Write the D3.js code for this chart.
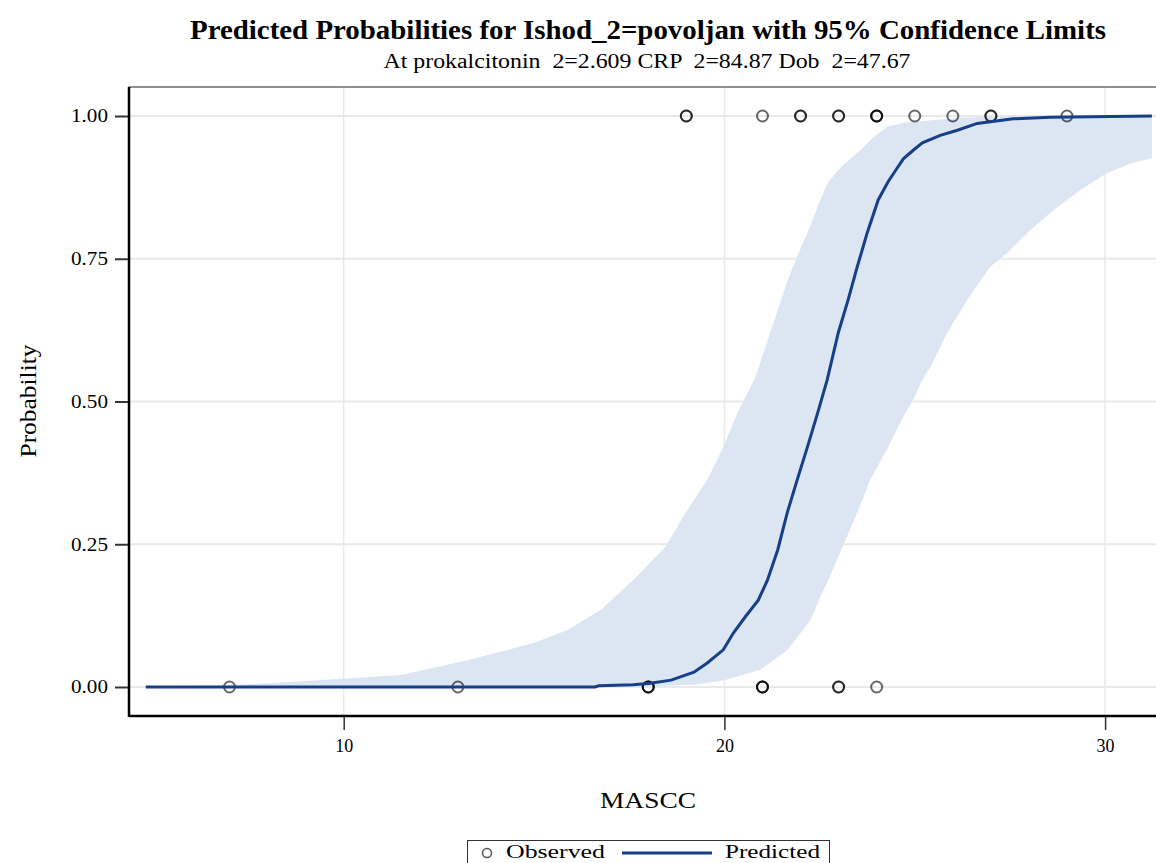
<!DOCTYPE html>
<html><head><meta charset="utf-8">
<script src="https://cdn.jsdelivr.net/npm/d3@7"></script>
<style>body{margin:0;background:#fff}svg{display:block}text{font-family:"Liberation Serif","Times New Roman",serif;fill:#000}</style>
</head><body><svg id="c" width="1156" height="863"></svg>
<script>
// Predicted curve (MASCC, probability)
const predX = [4.8,16.6,16.7,17.6,18.0,18.6,19.2,19.55,19.97,20.24,20.55,20.89,21.13,21.4,21.65,21.9,22.18,22.45,22.7,22.99,23.25,23.49,23.75,24.04,24.3,24.5,24.7,24.96,25.2,25.67,26.12,26.64,27.59,28.56,31.23];
const predP = [0,0,0.002,0.004,0.006,0.012,0.026,0.042,0.065,0.095,0.123,0.152,0.187,0.24,0.305,0.36,0.42,0.48,0.538,0.62,0.678,0.736,0.795,0.853,0.885,0.905,0.925,0.94,0.953,0.966,0.975,0.987,0.995,0.998,1.0];
// Upper confidence limit
const upX = [4.8,7.0,9.1,11.5,13.25,14.99,15.88,16.75,17.6,18.45,18.98,19.55,19.97,20.34,20.8,21.0,21.2,21.45,21.7,21.95,22.18,22.52,22.7,23.05,23.57,23.91,24.28,24.7,26.2,27.5,31.23];
const upP = [0.0005,0.003,0.011,0.021,0.047,0.077,0.10,0.135,0.187,0.245,0.305,0.363,0.42,0.48,0.54,0.58,0.62,0.67,0.72,0.76,0.795,0.853,0.882,0.91,0.94,0.963,0.981,0.988,0.997,1.0,1.0];
// Lower confidence limit
const loX = [4.8,17.5,19.19,20.0,20.94,21.65,22.26,22.52,22.73,23.1,23.49,23.83,24.3,24.75,24.96,25.2,25.41,25.85,26.38,26.98,27.43,27.95,28.64,29.34,30.05,30.73,31.23];
const loP = [0,0,0.004,0.012,0.03,0.065,0.117,0.158,0.187,0.245,0.305,0.363,0.42,0.48,0.503,0.538,0.56,0.62,0.678,0.736,0.76,0.795,0.835,0.87,0.9,0.918,0.926];
// Observed outcomes (MASCC value, outcome, count of overlapping obs)
const obsX = [19,21,22,23,24,25,26,27,29, 7,13,18,21,23,24];
const obsY = [1,1,1,1,1,1,1,1,1, 0,0,0,0,0,0];
const obsN = [2,1,2,2,3,1,1,2,1, 1,1,3,3,2,1];
const xTicks = [10,20,30];
const yTicks = [0,0.25,0.5,0.75,1.0];
const yTickLabels = ["0.00","0.25","0.50","0.75","1.00"];

const svg = d3.select("#c");
const L=129, R=1158, T=87, B=716;
const x = d3.scaleLinear().domain([4.36,31.39]).range([L,R]);
const y = d3.scaleLinear().domain([-0.0508,1.0508]).range([B,T]);

// grid
svg.append("g").selectAll("line").data(yTicks).join("line")
  .attr("x1",L).attr("x2",R).attr("y1",d=>y(d)).attr("y2",d=>y(d))
  .attr("stroke","#e9e9e9").attr("stroke-width",2);
svg.append("g").selectAll("line").data(xTicks).join("line")
  .attr("y1",T).attr("y2",B).attr("x1",d=>x(d)).attr("x2",d=>x(d))
  .attr("stroke","#e9e9e9").attr("stroke-width",1.5);

// band
const band = upX.map((v,i)=>[v,upP[i]]);
const bandLo = loX.map((v,i)=>[v,loP[i]]);
const poly = band.concat(bandLo.slice().reverse());
svg.append("path").datum(poly)
  .attr("d", d3.line().x(d=>x(d[0])).y(d=>y(d[1])))
  .attr("fill","#dce5f2").attr("stroke","none");

// observed
const obs=[];
obsX.forEach((v,i)=>{for(let k=0;k<obsN[i];k++) obs.push([v,obsY[i]]);});
svg.append("g").selectAll("circle").data(obs).join("circle")
  .attr("cx",d=>x(d[0])).attr("cy",d=>y(d[1])).attr("r",5.5)
  .attr("fill","none").attr("stroke","#000").attr("stroke-opacity",0.6).attr("stroke-width",2);

// predicted
svg.append("path").datum(predX.map((v,i)=>[v,predP[i]]))
  .attr("d", d3.line().x(d=>x(d[0])).y(d=>y(d[1])))
  .attr("fill","none").attr("stroke","#163f87").attr("stroke-width",3);

// frame
svg.append("rect").attr("x",L).attr("y",T).attr("width",R-L).attr("height",B-T)
  .attr("fill","none").attr("stroke","#222").attr("stroke-width",1);
svg.append("line").attr("x1",L).attr("x2",L).attr("y1",T).attr("y2",B+1).attr("stroke","#000").attr("stroke-width",2.5);
svg.append("line").attr("x1",L).attr("x2",R).attr("y1",B).attr("y2",B).attr("stroke","#000").attr("stroke-width",2.5);

// axes
const ya = svg.append("g").attr("transform",`translate(${L-1},0)`)
  .call(d3.axisLeft(y).tickValues(yTicks).tickSize(13).tickPadding(7).tickFormat((d,i)=>yTickLabels[i]));
ya.select(".domain").remove();
ya.selectAll("line").attr("stroke","#333").attr("stroke-width",2);
ya.selectAll("text").style("font-size","18px").attr("textLength",37).attr("lengthAdjust","spacingAndGlyphs");
const xa = svg.append("g").attr("transform",`translate(0,${B+1})`)
  .call(d3.axisBottom(x).tickValues(xTicks).tickSize(13).tickPadding(9).tickFormat(d3.format("d")));
xa.select(".domain").remove();
xa.selectAll("line").attr("stroke","#333").attr("stroke-width",1.5);
xa.selectAll("text").style("font-size","19px").attr("textLength",18).attr("lengthAdjust","spacingAndGlyphs");

// titles
svg.append("text").attr("x",648).attr("y",39).attr("text-anchor","middle")
  .style("font-size","27px").style("font-weight","bold")
  .attr("textLength",916).attr("lengthAdjust","spacingAndGlyphs")
  .text("Predicted Probabilities for Ishod_2=povoljan with 95% Confidence Limits");
svg.append("text").attr("x",647).attr("y",68).attr("text-anchor","middle")
  .style("font-size","20px").style("white-space","pre").attr("xml:space","preserve")
  .attr("textLength",527).attr("lengthAdjust","spacingAndGlyphs")
  .text("At prokalcitonin  2=2.609 CRP  2=84.87 Dob  2=47.67");
svg.append("text").attr("x",648).attr("y",808).attr("text-anchor","middle")
  .style("font-size","23px").attr("textLength",96).attr("lengthAdjust","spacingAndGlyphs").text("MASCC");
svg.append("text").attr("transform","translate(36,401) rotate(-90)").attr("text-anchor","middle")
  .style("font-size","23px").attr("textLength",113).attr("lengthAdjust","spacingAndGlyphs").text("Probability");

// legend
const lg = svg.append("g");
lg.append("rect").attr("x",467.5).attr("y",840.5).attr("width",362).attr("height",30)
  .attr("fill","#fff").attr("stroke","#333").attr("stroke-width",1);
lg.append("circle").attr("cx",487).attr("cy",853).attr("r",4.5).attr("fill","none").attr("stroke","#555").attr("stroke-width",1.5);
lg.append("text").attr("x",506).attr("y",858).style("font-size","18px").attr("textLength",99).attr("lengthAdjust","spacingAndGlyphs").text("Observed");
lg.append("line").attr("x1",622).attr("x2",712).attr("y1",853).attr("y2",853).attr("stroke","#163f87").attr("stroke-width",3);
lg.append("text").attr("x",725).attr("y",858).style("font-size","18px").attr("textLength",95).attr("lengthAdjust","spacingAndGlyphs").text("Predicted");
</script></body></html>
